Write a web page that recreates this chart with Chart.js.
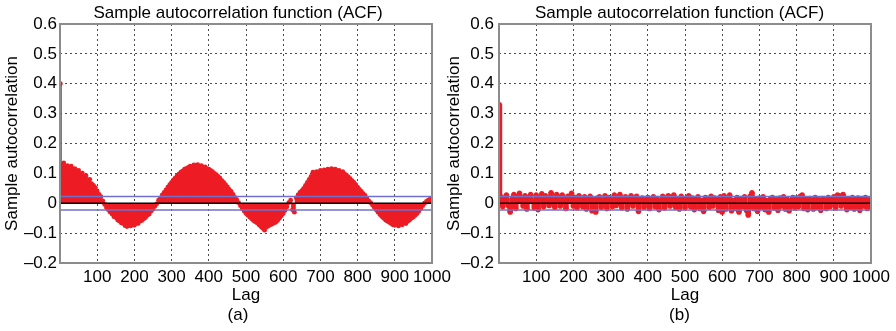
<!DOCTYPE html>
<html>
<head>
<meta charset="utf-8">
<script src="https://cdn.jsdelivr.net/npm/chart.js@4.4.0/dist/chart.umd.min.js"></script>
<style>
  body { margin: 0; background: #fff; width: 896px; height: 331px; overflow: hidden; position: relative; }
  canvas { position: absolute; top: 0; }
  #canvasA { left: 0; }
  #canvasB { left: 439px; }
</style>
</head>
<body>
<canvas id="canvasA" width="476" height="331"></canvas>
<canvas id="canvasB" width="481" height="331"></canvas>
<script>
// lag 1, then every 5th lag up to 1000
const lags = [1];
for (let k = 5; k <= 1000; k += 5) lags.push(k);

// (a) sample ACF
const acfA = [0.40,
  0.128, 0.135, 0.122, 0.126, 0.118, 0.124, 0.112, 0.116, 0.105, 0.110, 0.098, 0.101, 0.088, 0.092, 0.078, 0.080, 0.066, 0.060, 0.052, 0.041,
  0.030, 0.022, 0.008, -0.004, -0.015, -0.022, -0.030, -0.036, -0.045, -0.048, -0.056, -0.060, -0.066, -0.068, -0.075, -0.078, -0.072, -0.076, -0.070, -0.074,
  -0.066, -0.068, -0.060, -0.058, -0.052, -0.048, -0.040, -0.036, -0.026, -0.020, -0.010, -0.002, 0.010, 0.018, 0.028, 0.036, 0.045, 0.054, 0.062, 0.070,
  0.078, 0.085, 0.092, 0.098, 0.104, 0.108, 0.114, 0.117, 0.120, 0.124, 0.122, 0.128, 0.125, 0.129, 0.124, 0.126, 0.120, 0.122, 0.116, 0.114,
  0.110, 0.106, 0.100, 0.096, 0.090, 0.084, 0.076, 0.070, 0.062, 0.055, 0.046, 0.040, 0.030, 0.020, 0.012, 0.002, -0.008, -0.018, -0.026, -0.034,
  -0.040, -0.046, -0.052, -0.058, -0.062, -0.066, -0.072, -0.078, -0.084, -0.090, -0.080, -0.076, -0.072, -0.070, -0.066, -0.064, -0.058, -0.050, -0.042, -0.034,
  -0.024, -0.012, 0.002, 0.010, -0.022, -0.030, 0.018, 0.028, 0.036, 0.042, 0.050, 0.060, 0.070, 0.080, 0.090, 0.104, 0.098, 0.106, 0.102, 0.110,
  0.106, 0.112, 0.108, 0.114, 0.110, 0.116, 0.110, 0.114, 0.108, 0.110, 0.104, 0.106, 0.098, 0.094, 0.088, 0.082, 0.076, 0.070, 0.062, 0.054,
  0.046, 0.040, 0.032, 0.026, 0.016, 0.008, 0.002, -0.006, -0.014, -0.022, -0.030, -0.038, -0.044, -0.050, -0.056, -0.060, -0.064, -0.068, -0.072, -0.074,
  -0.070, -0.076, -0.070, -0.072, -0.066, -0.068, -0.060, -0.056, -0.050, -0.046, -0.040, -0.034, -0.026, -0.018, -0.008, 0.000, 0.006, 0.010, 0.014, 0.012
];

// (b) sample ACF, noise around zero
const acfB = [0.33,
  0.022, -0.012, 0.018, 0.028, -0.008, -0.030, 0.015, 0.030, -0.018, 0.024, 0.034, 0.012, -0.010, 0.026, -0.020, 0.020, 0.030, 0.008, -0.016, 0.028,
  -0.022, 0.014, 0.032, -0.012, 0.026, 0.018, -0.008, 0.036, 0.010, -0.014, 0.030, 0.022, -0.010, 0.028, 0.012, -0.018, 0.024, 0.016, 0.034, -0.010,
  0.020, -0.016, 0.026, 0.010, -0.012, 0.022, -0.020, 0.014, 0.024, -0.026, 0.012, -0.030, 0.018, 0.022, -0.014, 0.008, 0.026, -0.018, 0.020, 0.012,
  -0.012, 0.028, -0.008, 0.018, 0.030, -0.016, 0.014, 0.022, -0.020, 0.016, 0.026, -0.010, 0.020, 0.024, -0.028, 0.012, 0.018, -0.014, 0.010, 0.020,
  -0.018, 0.014, 0.022, -0.012, 0.016, -0.022, 0.010, 0.024, -0.016, 0.018, 0.026, -0.010, 0.022, 0.028, -0.014, 0.016, -0.020, 0.024, 0.012, -0.016,
  0.020, 0.026, -0.012, 0.018, -0.022, 0.014, 0.022, -0.018, 0.010, -0.028, 0.020, 0.016, -0.014, 0.024, -0.010, 0.018, 0.012, -0.024, 0.022, -0.030,
  0.026, -0.020, 0.014, 0.028, -0.026, 0.010, -0.018, 0.020, -0.030, 0.016, -0.012, 0.022, -0.024, -0.040, 0.024, 0.036, -0.018, 0.014, -0.028, 0.018,
  -0.014, 0.022, -0.022, 0.010, -0.030, 0.016, 0.020, -0.016, 0.012, -0.024, 0.018, -0.010, 0.022, -0.020, 0.014, -0.026, 0.010, 0.020, -0.016, 0.018,
  -0.012, 0.024, 0.028, -0.018, 0.014, -0.022, 0.016, 0.010, -0.020, 0.020, -0.014, 0.012, -0.024, 0.016, 0.010, -0.018, 0.020, -0.012, 0.014, 0.022,
  -0.016, 0.028, 0.026, -0.010, 0.030, 0.018, -0.022, 0.016, -0.014, 0.020, -0.020, 0.012, 0.018, -0.024, 0.016, -0.010, 0.020, -0.018, 0.012, 0.004
];

// approximate 95% confidence bounds
const upperBound = 0.023;
const lowerBound = -0.023;

const red = 'rgb(237, 28, 36)';
const blue = 'rgb(112, 112, 206)';

Chart.defaults.font.family = "'Liberation Sans', Arial, sans-serif";
Chart.defaults.font.size = 17;
Chart.defaults.color = '#000';

const frame = {
  id: 'frame',
  afterDatasetsDraw(chart) {
    const {ctx, chartArea: a} = chart;
    ctx.save();
    ctx.strokeStyle = '#8c8c8c';
    ctx.lineWidth = 2;
    ctx.strokeRect(a.left, a.top, a.right - a.left, a.bottom - a.top);
    ctx.restore();
  }
};

function hline(y, color, order) {
  return {
    type: 'line',
    data: [{x: 0, y: y}, {x: 1000, y: y}],
    borderColor: color,
    borderWidth: 1.5,
    pointRadius: 0,
    order: order
  };
}

function makeChart(id, values, panel, padRight, tickPad, titlePad, stemWidth, dot) {
  let ctx = document.getElementById(id).getContext('2d');
  let points = lags.map((l, i) => ({x: l, y: values[i]}));

  const data = {
    datasets: [
      hline(upperBound, blue, 0),
      hline(lowerBound, blue, 0),
      hline(0, '#000', 0),
      {
        type: 'line',
        data: points,
        showLine: false,
        pointRadius: dot,
        pointBackgroundColor: red,
        pointBorderWidth: 0,
        order: 1
      },
      {
        type: 'bar',
        data: points,
        backgroundColor: red,
        barThickness: stemWidth,
        order: 2
      }
    ]
  };

  const options = {
    responsive: false,
    animation: false,
    plugins: {
      legend: {display: false},
      tooltip: {enabled: false},
      title: {
        display: true,
        text: 'Sample autocorrelation function (ACF)',
        font: {size: 17, weight: 'normal'},
        padding: {top: 3, bottom: 0.6}
      },
      subtitle: {
        display: true,
        position: 'bottom',
        text: panel,
        font: {size: 17},
        padding: {top: 0, bottom: 5}
      }
    },
    scales: {
      x: {
        type: 'linear',
        min: 0,
        max: 1000,
        offset: false,
        ticks: {
          stepSize: 100,
          autoSkip: false,
          maxRotation: 0,
          padding: 4,
          callback: v => v === 0 ? '' : String(v)
        },
        grid: {color: 'rgba(0,0,0,0.7)', drawTicks: false, offset: false},
        border: {display: false, dash: [2, 3]},
        title: {display: true, text: 'Lag', padding: {top: 0, bottom: 0}},
        // room on the right without shifting the centred title
        afterFit: s => { s.height = 42.6; s.paddingRight = padRight; }
      },
      y: {
        min: -0.2,
        max: 0.6,
        ticks: {
          stepSize: 0.1,
          padding: tickPad,
          callback: v => {
            let r = Math.round(v * 10) / 10;
            return r === 0 ? '0' : r.toFixed(1).replace('-', '\u2013');
          }
        },
        grid: {color: 'rgba(0,0,0,0.7)', drawTicks: false},
        border: {display: false, dash: [2, 3]},
        title: {display: true, text: 'Sample autocorrelation', padding: {top: titlePad, bottom: 0}},
        afterFit: s => { s.width = 60; }
      }
    }
  };

  return new Chart(ctx, {type: 'bar', data: data, options: options, plugins: [frame]});
}

makeChart('canvasA', acfA, '(a)', 44, 3, 2, 2.2, 2.4);
makeChart('canvasB', acfB, '(b)', 49, 5, 5, 5, 2.6);
</script>
</body>
</html>
